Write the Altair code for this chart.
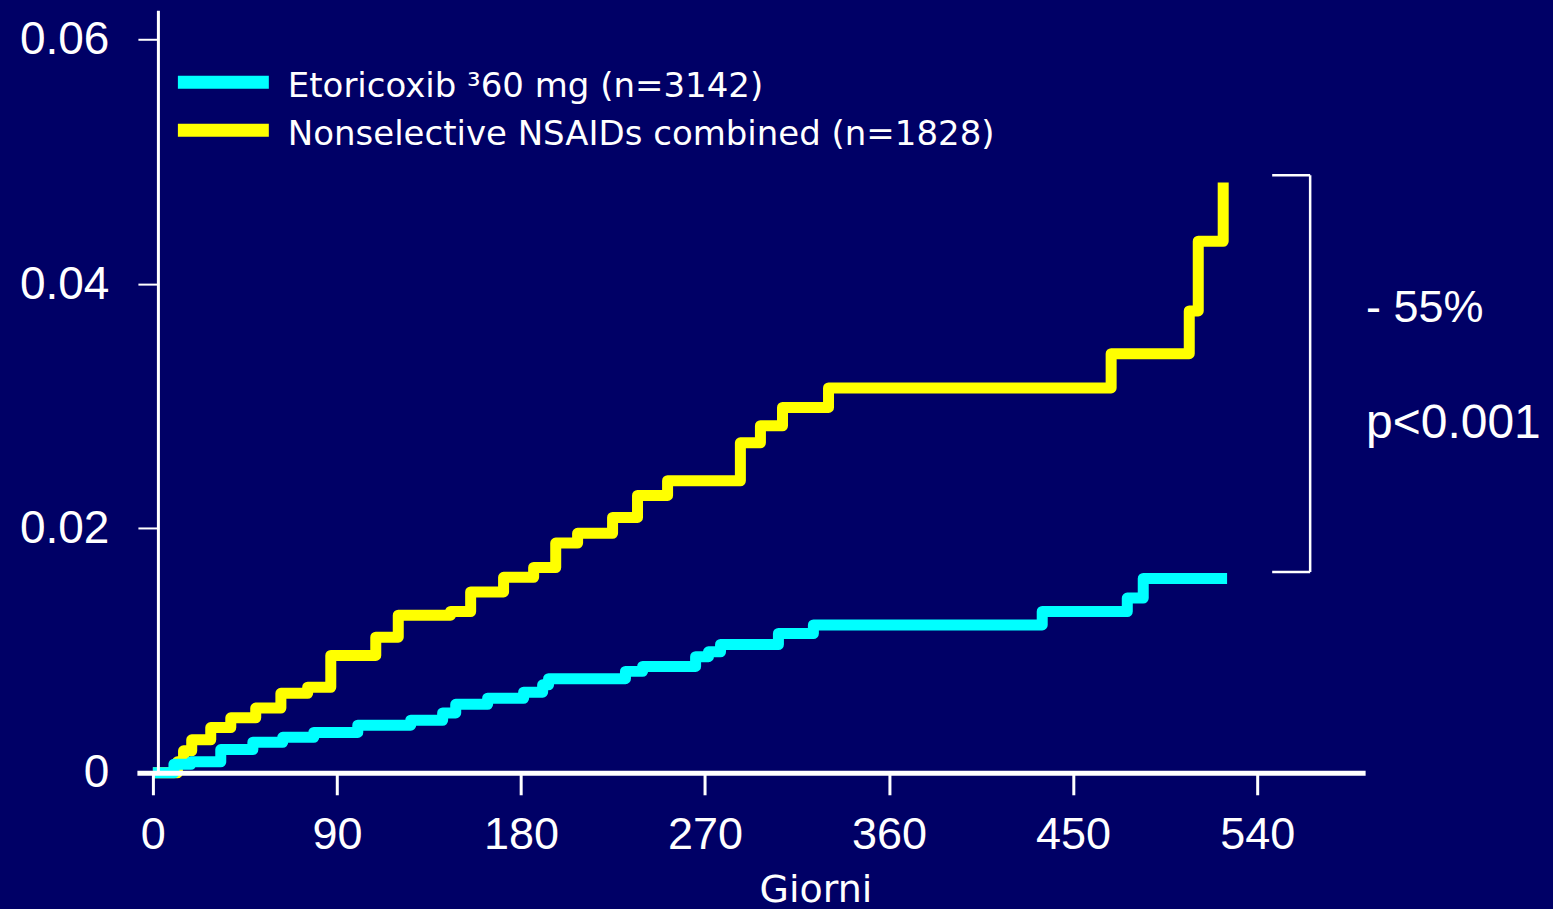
import altair as alt
import pandas as pd

# ---- data ----
cyan_days = [0, 10.3, 18.6, 33.2, 48.9, 63.5, 78.7, 100.2, 126.1, 141.7, 148.1, 163.7, 181.3,
             190.6, 193.5, 231.1, 239.5, 265.4, 271.7, 277.6, 305.9, 323.0, 434.9, 476.5, 484.3, 525.3]
cyan_vals = [0, 0.0007, 0.0009, 0.0019, 0.0025, 0.0029, 0.0033, 0.0039, 0.0043, 0.0049, 0.0056,
             0.0061, 0.0066, 0.0072, 0.0077, 0.0083, 0.0087, 0.0095, 0.0099, 0.0105, 0.0114,
             0.0121, 0.0132, 0.0143, 0.0159, 0.0159]

yellow_days = [0, 12, 15, 19, 28.3, 38.1, 50.3, 62.6, 75.7, 87.0, 109.0, 120.0, 145.6, 155.4,
               171.5, 186.2, 197.0, 207.7, 224.8, 237.0, 251.7, 287.3, 297.1, 307.9, 330.4,
               468.6, 506.8, 511.2, 523.4]
yellow_vals = [0, 0.0009, 0.0018, 0.0027, 0.0037, 0.0045, 0.0053, 0.0065, 0.0070, 0.0096, 0.0111,
               0.0129, 0.0132, 0.0148, 0.0160, 0.0168, 0.0188, 0.0196, 0.0209, 0.0227, 0.0239,
               0.0270, 0.0284, 0.0299, 0.0315, 0.0343, 0.0378, 0.0435, 0.0483]

series_names = ["Etoricoxib \u00b360 mg (n=3142)", "Nonselective NSAIDs combined (n=1828)"]
series_colors = ["#00FFFF", "#FFFF00"]
x_ticks = [0, 90, 180, 270, 360, 450, 540]
y_ticks = [0, 0.02, 0.04, 0.06]
x_title = "Giorni"
annot_texts = ["- 55%", "p<0.001"]

BG = "#000066"
W, H = 1229, 763

cyan_df = pd.DataFrame({"day": cyan_days, "val": cyan_vals})
yellow_df = pd.DataFrame({"day": yellow_days, "val": yellow_vals})
one = pd.DataFrame({"k": [0]})

xs = alt.Scale(domain=[-7.8, 592.8], nice=False, zero=False)
ys = alt.Scale(domain=[0, 0.0624], nice=False, zero=False)

xaxis = alt.Axis(values=x_ticks, grid=False, labelFont="Liberation Sans", labelFontSize=45,
                 labelColor="white", tickColor="white", tickWidth=3, tickSize=22,
                 domainColor="white", domainWidth=5, labelPadding=18, zindex=1,
                 title=x_title, titleFont="DejaVu Sans", titleFontSize=38,
                 titleFontWeight="normal", titleColor="white", titleX=679, titleY=129,
                 titleBaseline="alphabetic", titleAlign="center", titleAnchor="start")
yaxis = alt.Axis(values=y_ticks, grid=False, labelFont="Liberation Sans", labelFontSize=46,
                 labelColor="white", tickColor="white", tickWidth=2, tickSize=20,
                 domainColor="white", domainWidth=3, labelPadding=29, offset=-21, zindex=1,
                 title=None,
                 labelExpr="datum.value == 0 ? '0' : format(datum.value, '.2f')")

def step_line(df, color):
    return alt.Chart(df).mark_line(interpolate="step-after", color=color, strokeWidth=11,
                                   strokeJoin="round", strokeCap="butt").encode(
        x=alt.X("day:Q", scale=xs, axis=xaxis),
        y=alt.Y("val:Q", scale=ys, axis=yaxis))

yellow = step_line(yellow_df, series_colors[1])
cyan = step_line(cyan_df, series_colors[0])

# legend (manual)
legend_layers = []
for i, (name, col) in enumerate(zip(series_names, series_colors)):
    ly = 72 + i * 48
    legend_layers.append(alt.Chart(one).mark_rule(color=col, strokeWidth=13).encode(
        x=alt.value(41), x2=alt.value(132), y=alt.value(ly)))
    legend_layers.append(alt.Chart(one).mark_text(
        text=name, color="white", font="DejaVu Sans", fontSize=34, align="left",
        baseline="alphabetic").encode(x=alt.value(151), y=alt.value(ly + 15)))

# bracket
br = [
    alt.Chart(one).mark_rule(color="white", strokeWidth=2.5).encode(
        x=alt.value(1174), y=alt.value(165), y2=alt.value(562)),
    alt.Chart(one).mark_rule(color="white", strokeWidth=2.5).encode(
        x=alt.value(1136), x2=alt.value(1174), y=alt.value(165)),
    alt.Chart(one).mark_rule(color="white", strokeWidth=2.5).encode(
        x=alt.value(1136), x2=alt.value(1174), y=alt.value(562)),
]
annots = [
    alt.Chart(one).mark_text(text=annot_texts[0], color="white", font="Liberation Sans",
                             fontSize=45, align="left", baseline="alphabetic").encode(
        x=alt.value(1230), y=alt.value(312)),
    alt.Chart(one).mark_text(text=annot_texts[1], color="white", font="Liberation Sans",
                             fontSize=48, align="left", baseline="alphabetic").encode(
        x=alt.value(1230), y=alt.value(428)),
]

chart = alt.layer(yellow, cyan, *legend_layers, *br, *annots).properties(
    width=W, height=H,
    padding={"left": 11, "top": 2, "right": 4, "bottom": 2},
).configure(background=BG).configure_view(stroke=None)


class _BodyBackground:
    """Wraps altair's standard HTML template to colour the page margin like the chart."""
    def __init__(self, base):
        self.base = base

    def render(self, *args, **kwargs):
        html = self.base.render(*args, **kwargs)
        style = "<style>html, body { background: %s; }</style>\n" % BG
        if "</head>" in html:
            return html.replace("</head>", style + "</head>", 1)
        return style + html


EMBED = {"renderer": "svg", "actions": False}
try:
    import altair.utils.html as _ah
    chart.save("out.html", embed_options=EMBED,
               template=_BodyBackground(_ah.TEMPLATES["standard"]))
except Exception:
    chart.save("out.html", embed_options=EMBED)
